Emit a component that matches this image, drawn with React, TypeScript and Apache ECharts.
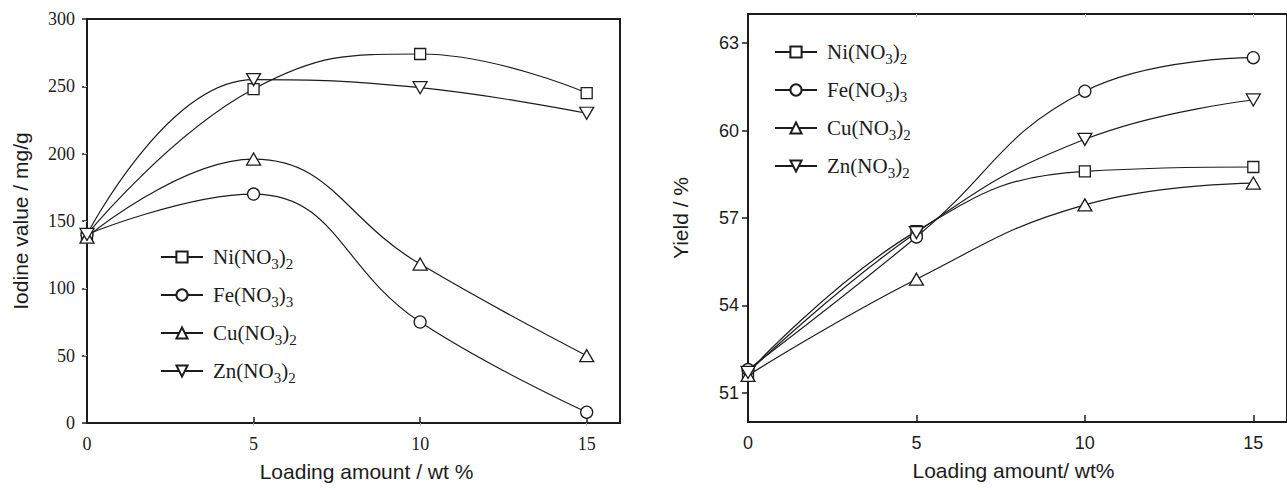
import React, { useEffect, useRef } from "react";
import * as echarts from "echarts";

const xValues = [0, 5, 10, 15];
const seriesNames = ["Ni(NO3)2", "Fe(NO3)3", "Cu(NO3)2", "Zn(NO3)2"];
const iodineNi = [140, 248, 274, 245];
const iodineFe = [140, 170, 75, 8];
const iodineCu = [138, 196, 118, 50];
const iodineZn = [140, 255, 249, 230];
const yieldNi = [51.7, 56.55, 58.6, 58.75];
const yieldFe = [51.8, 56.35, 61.35, 62.5];
const yieldCu = [51.6, 54.9, 57.45, 58.2];
const yieldZn = [51.7, 56.5, 59.7, 61.05];
const iodineTicks = [0, 50, 100, 150, 200, 250, 300];
const yieldTicks = [51, 54, 57, 60, 63];
const xTicks = [0, 5, 10, 15];

const iodineData = [iodineNi, iodineFe, iodineCu, iodineZn];
const yieldData = [yieldNi, yieldFe, yieldCu, yieldZn];

const richNames: Record<string, string> = {
  "Ni(NO3)2": "{f|Ni(NO}{s|3}{a|)}{s|2}",
  "Fe(NO3)3": "{f|Fe(NO}{s|3}{a|)}{s|3}",
  "Cu(NO3)2": "{f|Cu(NO}{s|3}{a|)}{s|2}",
  "Zn(NO3)2": "{f|Zn(NO}{s|3}{a|)}{s|2}",
};

const symbols = ["rect", "circle", "triangle", "path://M0,0L10,0L5,8.66Z"];
const symbolSizes: any[] = [11, 12, [14, 12], [14, 12]];

const INK = "#1c1c1c";
const SERIF = "'Liberation Serif', 'Times New Roman', serif";
const SANS = "'Liberation Sans', Arial, sans-serif";

export default function App() {
  const ref = useRef<HTMLDivElement>(null);
  useEffect(() => {
    if (!ref.current) return;
    const chart = echarts.init(ref.current, undefined, { renderer: "svg" });

    const legendText = {
      fontFamily: SERIF,
      fontSize: 21,
      color: INK,
      rich: {
        f: { fontFamily: SERIF, fontSize: 21, color: INK, lineHeight: 22, padding: [0, 0, 0, 5] },
        a: { fontFamily: SERIF, fontSize: 21, color: INK, lineHeight: 22 },
        s: { fontFamily: SERIF, fontSize: 15, color: INK, lineHeight: 15, padding: [13, 0, 0, 0] },
      },
    };

    const makeSeries = (i: number, chartIdx: number) => {
      const vals = chartIdx === 0 ? iodineData[i] : yieldData[i];
      return {
        name: seriesNames[i],
        type: "line",
        xAxisIndex: chartIdx,
        yAxisIndex: chartIdx,
        smooth: 0.45,
        symbol: symbols[i],
        symbolSize: symbolSizes[i],
        showAllSymbol: true,
        lineStyle: { color: INK, width: 1.2 },
        itemStyle: { color: "#ffffff", borderColor: INK, borderWidth: 1.3 },
        data: xValues.map((x, j) => [x, vals[j]]),
        z: 3,
      };
    };

    const series: any[] = [];
    for (let i = 0; i < 4; i++) series.push(makeSeries(i, 0));
    for (let i = 0; i < 4; i++) series.push(makeSeries(i, 1));

    const option: any = {
      animation: false,
      backgroundColor: "#ffffff",
      grid: [
        { left: 87, top: 19, width: 533, height: 404, show: true, borderColor: INK, borderWidth: 2, backgroundColor: "transparent" },
        { left: 748, top: 14, width: 548, height: 408, show: true, borderColor: INK, borderWidth: 2, backgroundColor: "transparent" },
      ],
      legend: [
        {
          data: seriesNames,
          orient: "vertical",
          left: 155,
          top: 238,
          itemWidth: 42,
          itemHeight: 14,
          itemGap: 10,
          textStyle: legendText,
          formatter: (n: string) => richNames[n],
          selectedMode: false,
        },
        {
          data: seriesNames,
          orient: "vertical",
          left: 769,
          top: 33,
          itemWidth: 42,
          itemHeight: 14,
          itemGap: 10,
          textStyle: legendText,
          formatter: (n: string) => richNames[n],
          selectedMode: false,
        },
      ],
      xAxis: [
        {
          type: "value",
          gridIndex: 0,
          min: 0,
          max: 16,
          interval: 5,
          name: "Loading amount / wt %",
          nameLocation: "middle",
          nameGap: 38,
          nameTextStyle: { fontFamily: SANS, fontSize: 21, color: INK, padding: [0, 0, 0, 26] },
          axisLine: { show: true, lineStyle: { color: INK, width: 2 } },
          axisTick: { show: true, inside: true, length: 6, lineStyle: { color: INK, width: 1.5 }, customValues: xTicks },
          axisLabel: { fontFamily: SERIF, fontSize: 18, color: INK, margin: 12, customValues: xTicks },
          splitLine: { show: false },
        },
        {
          type: "value",
          gridIndex: 1,
          min: 0,
          max: 16,
          interval: 5,
          name: "Loading amount/ wt%",
          nameLocation: "middle",
          nameGap: 38,
          nameTextStyle: { fontFamily: SANS, fontSize: 21, color: INK, padding: [0, 8, 0, 0] },
          axisLine: { show: true, lineStyle: { color: INK, width: 2 } },
          axisTick: { show: true, inside: true, length: 7, lineStyle: { color: INK, width: 1.5 }, customValues: xTicks },
          axisLabel: { fontFamily: SANS, fontSize: 18, color: INK, margin: 12, customValues: xTicks },
          splitLine: { show: false },
        },
        {
          type: "value",
          gridIndex: 0,
          position: "top",
          min: 0,
          max: 16,
          axisLine: { show: false },
          axisTick: { show: true, inside: true, length: 3, lineStyle: { color: "#bbbbbb", width: 1 }, customValues: [5, 10, 15] },
          axisLabel: { show: false },
          splitLine: { show: false },
        },
        {
          type: "value",
          gridIndex: 1,
          position: "top",
          min: 0,
          max: 16,
          axisLine: { show: false },
          axisTick: { show: true, inside: true, length: 3, lineStyle: { color: "#bbbbbb", width: 1 }, customValues: [5, 10, 15] },
          axisLabel: { show: false },
          splitLine: { show: false },
        },
      ],
      yAxis: [
        {
          type: "value",
          gridIndex: 0,
          min: 0,
          max: 300,
          interval: 50,
          name: "Iodine value / mg/g",
          nameLocation: "middle",
          nameGap: 56,
          nameTextStyle: { fontFamily: SANS, fontSize: 21, color: INK },
          axisLine: { show: true, lineStyle: { color: INK, width: 2 } },
          axisTick: { show: true, inside: false, length: 5, lineStyle: { color: INK, width: 1.5 }, customValues: iodineTicks },
          axisLabel: { fontFamily: SERIF, fontSize: 18, color: INK, margin: 12, customValues: iodineTicks },
          splitLine: { show: false },
        },
        {
          type: "value",
          gridIndex: 1,
          min: 50,
          max: 64,
          name: "Yield / %",
          nameLocation: "middle",
          nameGap: 57,
          nameTextStyle: { fontFamily: SANS, fontSize: 21, color: INK },
          axisLine: { show: true, lineStyle: { color: INK, width: 2 } },
          axisTick: { show: true, inside: false, length: 6, lineStyle: { color: INK, width: 1.5 }, customValues: yieldTicks },
          axisLabel: { fontFamily: SANS, fontSize: 18, color: INK, margin: 9, customValues: yieldTicks },
          splitLine: { show: false },
        },
        {
          type: "value",
          gridIndex: 0,
          position: "right",
          min: 0,
          max: 300,
          axisLine: { show: false },
          axisTick: { show: true, inside: true, length: 3, lineStyle: { color: "#bbbbbb", width: 1 }, customValues: [50, 100, 150, 200, 250] },
          axisLabel: { show: false },
          splitLine: { show: false },
        },
      ],
      series,
    };

    chart.setOption(option);
    return () => {
      chart.dispose();
    };
  }, []);

  return (
    <div
      ref={ref}
      style={{ position: "fixed", left: 0, top: 0, width: 1287, height: 490, background: "#ffffff" }}
    />
  );
}
